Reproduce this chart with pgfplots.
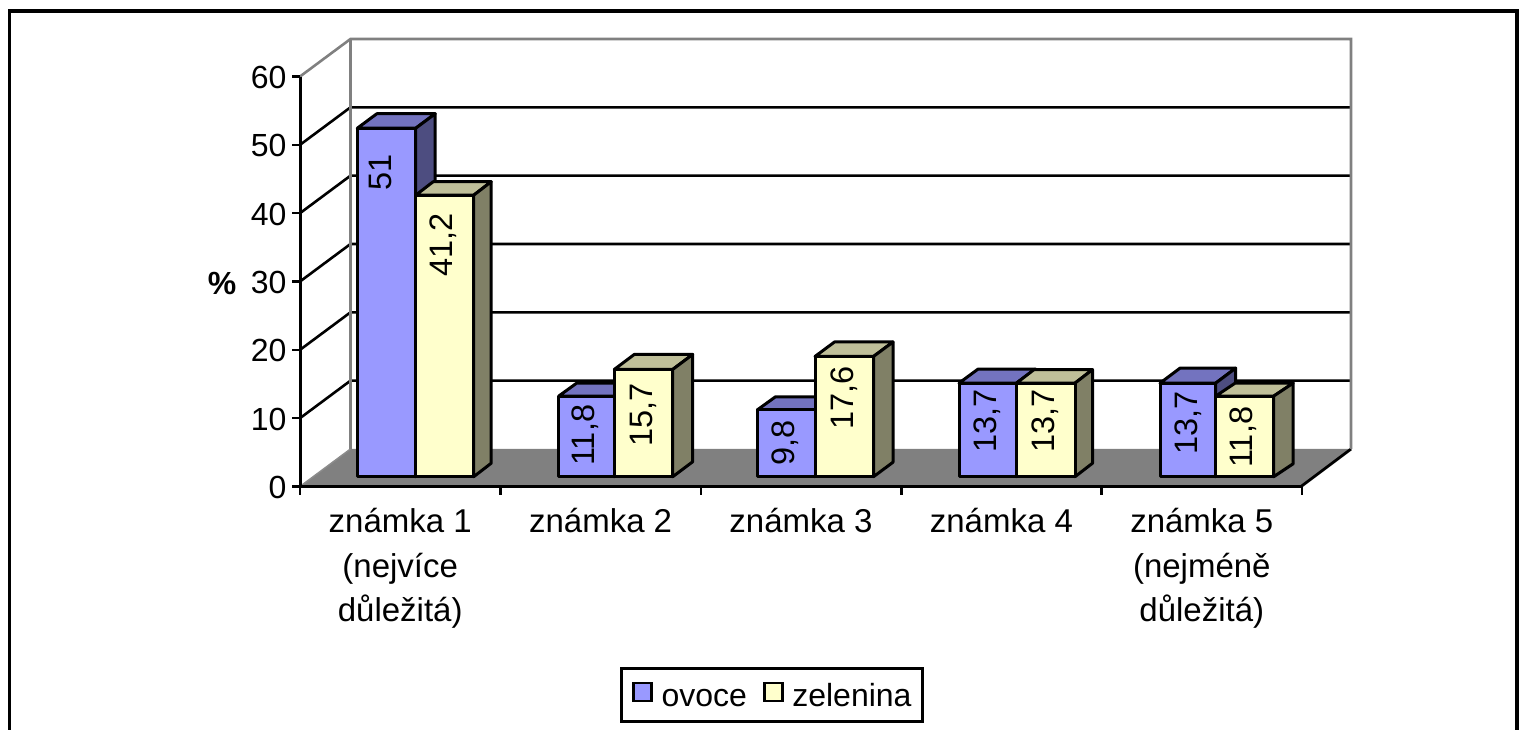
\documentclass[border=0pt]{standalone}
\usepackage{pgfplots}
\pgfplotsset{compat=1.18}
\usepackage{fontspec}
\setmainfont{Liberation Sans}
\definecolor{bluefront}{HTML}{9999FF}
\definecolor{bluetop}{HTML}{7373BF}
\definecolor{blueside}{HTML}{4D4D80}
\definecolor{yelfront}{HTML}{FFFFCC}
\definecolor{yeltop}{HTML}{BFBF99}
\definecolor{yelside}{HTML}{808066}
\definecolor{wall}{HTML}{808080}
% x0, x1 (axis x, pixels), value, dx (px), dy (px), front, top, side
\newcommand{\threedbar}[8]{%
  \pgfmathsetmacro{\ybase}{1.43}%
  \pgfmathsetmacro{\ytop}{#3+1.43}%
  \pgfmathsetmacro{\ydep}{#5/6.833}%
  \pgfmathsetmacro{\ytopb}{\ytop+\ydep}%
  \pgfmathsetmacro{\ybaseb}{\ybase+\ydep}%
  \pgfmathsetmacro{\xab}{#1+#4}%
  \pgfmathsetmacro{\xbb}{#2+#4}%
  \edef\temp{\noexpand\addplot[fill=#7,draw=black,line width=3pt,line join=round,forget plot] coordinates {(#1,\ytop)(#2,\ytop)(\xbb,\ytopb)(\xab,\ytopb)} --cycle;
  \noexpand\addplot[fill=#8,draw=black,line width=3pt,line join=round,forget plot] coordinates {(#2,\ybase)(\xbb,\ybaseb)(\xbb,\ytopb)(#2,\ytop)} --cycle;
  \noexpand\addplot[fill=#6,draw=black,line width=3pt,line join=round,forget plot] coordinates {(#1,\ybase)(#2,\ybase)(#2,\ytop)(#1,\ytop)} --cycle;}%
  \temp}
\newcommand{\barlabel}[3]{\node[rotate=90,inner sep=0pt,font=\fontsize{32.5}{36}\selectfont] at (axis cs:#1,#2) {#3};}
\begin{document}
\begin{tikzpicture}[x=1pt,y=1pt]
\useasboundingbox (0,0) rectangle (1526,729);
\draw[line width=3.2pt,line cap=rect] (9.5,0) -- (9.5,718) -- (1517,718) -- (1517,0);
\begin{axis}[
  at={(300pt,242.5pt)},anchor=south west,
  scale only axis,width=1002pt,height=410pt,
  xmin=300,xmax=1302,ymin=0,ymax=60,
  clip=false,axis on top,
  axis x line=bottom,axis y line=left,
  axis line style={-,line width=3pt},
  every tick/.style={black,line width=2.6pt},
  major tick length=8pt,
  xtick={300,500.4,700.8,901.2,1101.6,1302},
  x tick label as interval,
  xticklabels={{známka 1\\(nejvíce\\důležitá)},{známka 2},{známka 3},{známka 4},{známka 5\\(nejméně\\důležitá)}},
  x tick label style={align=center,anchor=north,yshift=-10.5pt,font=\fontsize{33}{44.5}\selectfont},
  ytick={0,10,20,30,40,50,60},
  y tick label style={font=\fontsize{32}{36}\selectfont,xshift=-2pt,yshift=-1pt},
  /pgf/number format/assume math mode=true,
  tick align=outside,
  legend style={at={(0.471,-0.5085)},anchor=center,draw=black,line width=2.6pt,
    font=\fontsize{32}{36}\selectfont,
    nodes={text height=24pt,text depth=1pt,inner xsep=0pt},
    /tikz/every even column/.append style={column sep=16pt},
    inner xsep=11pt,inner ysep=12pt},
  legend columns=2,
  legend image code/.code={\draw[#1,line width=2.6pt] (0pt,-6pt) rectangle (18pt,12pt);\path[draw=none,fill=none] (0pt,0pt) -- (28pt,0pt);},
]
\addlegendimage{fill=bluefront,draw=black}
\addlegendentry{ovoce}
\addlegendimage{fill=yelfront,draw=black}
\addlegendentry{zelenina}
% floor
\addplot[fill=wall,draw=none,forget plot] coordinates {(300,0)(350.5,5.49)(1351,5.49)(1301,0)} --cycle;
\addplot[draw=black!45,line width=1.5pt,forget plot] coordinates {(300,0)(350.5,5.49)};
\addplot[draw=black,line width=2.8pt,forget plot] coordinates {(1301,0)(1351,5.49)};
% grid lines
\addplot[black,line width=2.6pt,forget plot] coordinates {(300,10)(350.5,15.49)(1351,15.49)};
\addplot[black,line width=2.6pt,forget plot] coordinates {(300,20)(350.5,25.49)(1351,25.49)};
\addplot[black,line width=2.6pt,forget plot] coordinates {(300,30)(350.5,35.49)(1351,35.49)};
\addplot[black,line width=2.6pt,forget plot] coordinates {(300,40)(350.5,45.49)(1351,45.49)};
\addplot[black,line width=2.6pt,forget plot] coordinates {(300,50)(350.5,55.49)(1351,55.49)};
% walls
\addplot[wall,line width=2.6pt,forget plot] coordinates {(300,60)(350.5,65.49)(1351,65.49)(1351,5.49)};
\addplot[wall,line width=2.6pt,forget plot] coordinates {(350.5,65.49)(350.5,5.49)};
% bars
\threedbar{357.3}{415.7}{51}{19.5}{14.5}{bluefront}{bluetop}{blueside}
\threedbar{415.7}{473.7}{41.2}{17.5}{13.5}{yelfront}{yeltop}{yelside}
\threedbar{558.7}{614.3}{11.8}{18}{13}{bluefront}{bluetop}{blueside}
\threedbar{614.3}{672.7}{15.7}{20}{15}{yelfront}{yeltop}{yelside}
\threedbar{757.5}{815}{9.8}{18}{13}{bluefront}{bluetop}{blueside}
\threedbar{815}{873.5}{17.6}{19.5}{14.5}{yelfront}{yeltop}{yelside}
\threedbar{959}{1016.5}{13.7}{19}{14}{bluefront}{bluetop}{blueside}
\threedbar{1016.5}{1075}{13.7}{17.5}{13.5}{yelfront}{yeltop}{yelside}
\threedbar{1160}{1215.7}{13.7}{20}{15}{bluefront}{bluetop}{blueside}
\threedbar{1215.7}{1273.7}{11.8}{19.5}{13}{yelfront}{yeltop}{yelside}
% data labels
\barlabel{380}{45.9}{51}
\barlabel{443}{35.3}{41,2}
\barlabel{585}{7.5}{11,8}
\barlabel{643}{10.5}{15,7}
\barlabel{785}{6.4}{9,8}
\barlabel{844}{12.9}{17,6}
\barlabel{987}{9.6}{13,7}
\barlabel{1045}{9.6}{13,7}
\barlabel{1188}{9.3}{13,7}
\barlabel{1243}{7.2}{11,8}
\node[font=\bfseries\fontsize{32}{36}\selectfont] at (axis cs:-78+300,29.7) {\%};
\end{axis}
\end{tikzpicture}
\end{document}
